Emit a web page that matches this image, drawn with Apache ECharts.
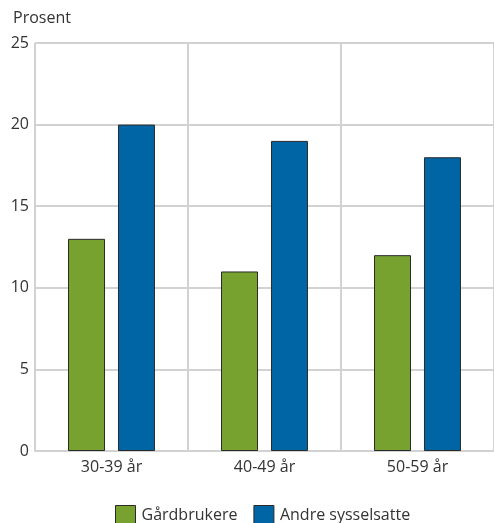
<!DOCTYPE html>
<html><head><meta charset="utf-8">
<script src="https://cdn.jsdelivr.net/npm/echarts@6/dist/echarts.min.js"></script>
<style>html,body{margin:0;padding:0;background:#fff}#c{width:494px;height:523px}</style>
</head><body><div id="c"></div>
<script>
const categories = ['30-39 år', '40-49 år', '50-59 år'];
const gardbrukere = [13, 11, 12];
const andre = [20, 19, 18];
const yTicks = [0, 5, 10, 15, 20, 25];

const chart = echarts.init(document.getElementById('c'));
const font = 'Open Sans';
chart.setOption({
  animation: false,
  title: { text: 'Prosent', left: 8, top: 5, textStyle: { fontFamily: font, fontSize: 16, fontWeight: 'normal', color: '#333' } },
  grid: { left: 35, top: 43, width: 464, bottom: 72, containLabel: false },
  legend: {
    left: 115, top: 505, padding: 0, itemWidth: 20, itemHeight: 20, itemGap: 16, icon: 'rect',
    textStyle: { fontFamily: font, fontSize: 16, color: '#333', padding: [0, 0, 0, 1] },
    itemStyle: { borderColor: '#2a2a2a', borderWidth: 1 },
    data: ['Gårdbrukere', 'Andre sysselsatte']
  },
  xAxis: {
    type: 'category', data: categories,
    axisLine: { show: true, lineStyle: { color: '#d2d2d2', width: 2 } },
    axisTick: { show: false },
    axisLabel: { fontFamily: font, fontSize: 16, color: '#333', margin: 8 },
    splitLine: { show: true, lineStyle: { color: '#d2d2d2', width: 2 } }
  },
  yAxis: {
    type: 'value', min: yTicks[0], max: yTicks[yTicks.length - 1], interval: 5,
    axisLine: { show: false }, axisTick: { show: false },
    axisLabel: { fontFamily: font, fontSize: 16, color: '#333', margin: 6 },
    splitLine: { show: true, lineStyle: { color: '#d2d2d2', width: 2 } }
  },
  series: [
    { name: 'Gårdbrukere', type: 'bar', data: gardbrukere, barWidth: 37, barGap: '35%',
      itemStyle: { color: '#77a22f', borderColor: '#2a2a2a', borderWidth: 1 } },
    { name: 'Andre sysselsatte', type: 'bar', data: andre, barWidth: 37,
      itemStyle: { color: '#0065a4', borderColor: '#2a2a2a', borderWidth: 1 } }
  ]
});
</script></body></html>
